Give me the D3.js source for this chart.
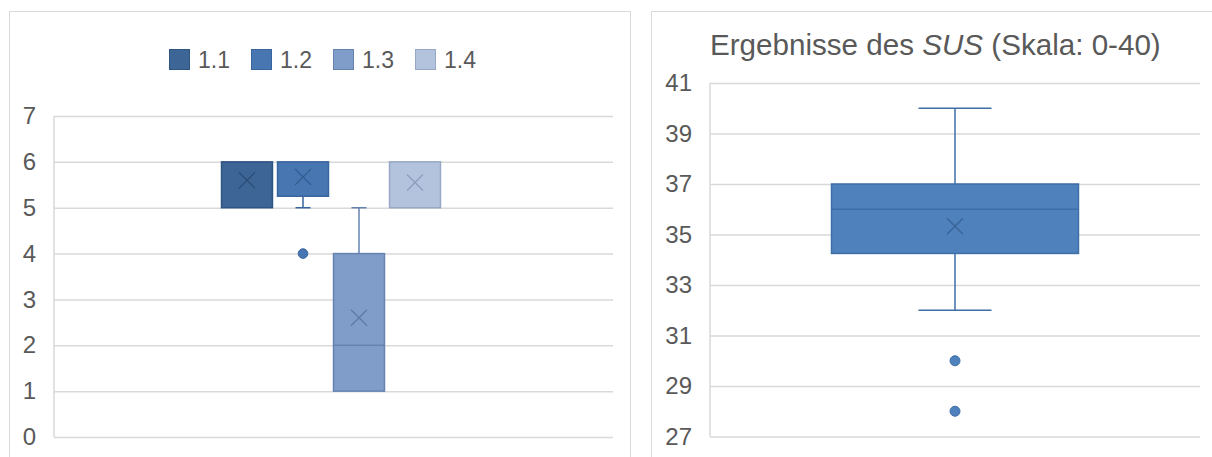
<!DOCTYPE html>
<html>
<head>
<meta charset="utf-8">
<script src="https://cdn.jsdelivr.net/npm/d3@7"></script>
<style>
  html, body { margin: 0; padding: 0; background: #fff; }
  svg { display: block; font-family: "Liberation Sans", Arial, sans-serif; }
</style>
</head>
<body>
<svg id="chart" width="1212" height="457"></svg>
<script>
// ---------- Data: left chart (questions 1.1 - 1.4) ----------
const seriesNames = ["1.1", "1.2", "1.3", "1.4"];
const leftMin     = [5, 5, 1, 5];
const leftQ1      = [5, 5.25, 1, 5];
const leftMedian  = [6, 6, 2, 6];
const leftQ3      = [6, 6, 4, 6];
const leftMax     = [6, 6, 5, 6];
const leftMean    = [5.6, 5.67, 2.6, 5.55];
const leftOutliers = [[], [4], [], []];
const leftTicks   = [0, 1, 2, 3, 4, 5, 6, 7];

// ---------- Data: right chart (SUS) ----------
const susTitleParts = ["Ergebnisse des ", "SUS", " (Skala: 0-40)"];
const susMin = 32, susQ1 = 34.25, susMedian = 36, susQ3 = 37, susMax = 40, susMean = 35.33;
const susOutliers = [30, 28];
const susTicks = [27, 29, 31, 33, 35, 37, 39, 41];

// ---------- Styles ----------
const fills   = ["#3d6595", "#4876b0", "#7f9dc8", "#b3c3de"];
const strokes = ["#2f5583", "#38659e", "#6683b0", "#97a8c6"];
const meanCol = ["#2c4e78", "#325d92", "#5d7aa6", "#8d9dbb"];
const textCol = "#595959";
const gridCol = "#d9d9d9";

const svg = d3.select("#chart");

// Panel borders
svg.append("rect").attr("x", 9.5).attr("y", 11.5).attr("width", 621).attr("height", 470)
  .attr("fill", "none").attr("stroke", gridCol).attr("stroke-width", 1);
svg.append("rect").attr("x", 651.5).attr("y", 11.5).attr("width", 600).attr("height", 470)
  .attr("fill", "none").attr("stroke", gridCol).attr("stroke-width", 1);

// ================= LEFT CHART =================
const L = { left: 54, right: 613, top: 116, bottom: 437 };
const yL = d3.scaleLinear().domain([0, 7]).range([L.bottom, L.top]);
const xCat = d3.scaleBand().domain(["all"]).range([L.left, L.right]);
const groupCenter = xCat("all") + xCat.bandwidth() / 2 - 2.5;
const xSer = d3.scaleBand().domain(seriesNames)
  .range([groupCenter - 112, groupCenter + 112]).paddingInner(0.09).paddingOuter(0.045);

const gL = svg.append("g");
// gridlines
gL.append("g").attr("transform", `translate(${L.left},0)`)
  .call(d3.axisLeft(yL).tickValues(leftTicks).tickSize(-(L.right - L.left)).tickFormat(""))
  .call(g => g.select(".domain").remove())
  .call(g => g.selectAll("line").attr("stroke", gridCol).attr("stroke-width", 1.5));
// axis line
gL.append("line").attr("x1", L.left).attr("x2", L.left).attr("y1", L.top).attr("y2", L.bottom)
  .attr("stroke", gridCol).attr("stroke-width", 1.5);
// tick labels
gL.append("g").attr("transform", `translate(${L.left},0)`)
  .call(d3.axisLeft(yL).tickValues(leftTicks).tickSize(0).tickPadding(18).tickFormat(d3.format("d")))
  .call(g => g.select(".domain").remove())
  .call(g => g.selectAll("text").attr("fill", textCol).style("font-size", "24px")
    .style("font-family", "'Liberation Sans', Arial, sans-serif"));

function drawBox(g, cx, w, capW, st, y, fill, stroke, mc, r) {
  // whiskers
  if (st.max > st.q3) {
    g.append("line").attr("x1", cx).attr("x2", cx).attr("y1", y(st.q3)).attr("y2", y(st.max))
      .attr("stroke", stroke).attr("stroke-width", 1.5);
    g.append("line").attr("x1", cx - capW / 2).attr("x2", cx + capW / 2).attr("y1", y(st.max)).attr("y2", y(st.max))
      .attr("stroke", stroke).attr("stroke-width", 1.5);
  }
  if (st.min < st.q1) {
    g.append("line").attr("x1", cx).attr("x2", cx).attr("y1", y(st.q1)).attr("y2", y(st.min))
      .attr("stroke", stroke).attr("stroke-width", 1.5);
    g.append("line").attr("x1", cx - capW / 2).attr("x2", cx + capW / 2).attr("y1", y(st.min)).attr("y2", y(st.min))
      .attr("stroke", stroke).attr("stroke-width", 1.5);
  }
  // box
  g.append("rect").attr("x", cx - w / 2).attr("width", w)
    .attr("y", y(st.q3)).attr("height", y(st.q1) - y(st.q3))
    .attr("fill", fill).attr("stroke", stroke).attr("stroke-width", 1.5);
  // median
  if (st.median > st.q1 && st.median < st.q3) {
    g.append("line").attr("x1", cx - w / 2).attr("x2", cx + w / 2)
      .attr("y1", y(st.median)).attr("y2", y(st.median))
      .attr("stroke", stroke).attr("stroke-width", 1.5);
  }
  // mean X
  const m = y(st.mean), s = 8;
  g.append("path").attr("d", `M${cx - s},${m - s}L${cx + s},${m + s}M${cx - s},${m + s}L${cx + s},${m - s}`)
    .attr("stroke", mc).attr("stroke-width", 1.3).attr("fill", "none");
  // outliers
  st.outliers.forEach(o => {
    g.append("circle").attr("cx", cx).attr("cy", y(o)).attr("r", r)
      .attr("fill", fill).attr("stroke", stroke).attr("stroke-width", 1);
  });
}

seriesNames.forEach((name, i) => {
  const cx = xSer(name) + xSer.bandwidth() / 2;
  drawBox(gL, cx, xSer.bandwidth(), 15, {
    min: leftMin[i], q1: leftQ1[i], median: leftMedian[i], q3: leftQ3[i], max: leftMax[i],
    mean: leftMean[i], outliers: leftOutliers[i]
  }, yL, fills[i], strokes[i], meanCol[i], 4.8);
});

// legend
const legend = svg.append("g");
const legX = d3.scaleBand().domain(seriesNames).range([169, 497]);
seriesNames.forEach((name, i) => {
  const x0 = legX(name);
  legend.append("rect").attr("x", x0 + 0.5).attr("y", 49.5).attr("width", 20).attr("height", 20)
    .attr("fill", fills[i]).attr("stroke", strokes[i]).attr("stroke-width", 1);
  legend.append("text").attr("x", x0 + 29).attr("y", 68).text(name)
    .attr("fill", textCol).style("font-size", "23px");
});

// ================= RIGHT CHART =================
const R = { left: 710, right: 1200, top: 83, bottom: 436.5 };
const yR = d3.scaleLinear().domain([27, 41]).range([R.bottom, R.top]);
const xR = d3.scaleBand().domain(["SUS"]).range([R.left, R.right]).paddingInner(0).paddingOuter(0.492);
const gR = svg.append("g");
gR.append("g").attr("transform", `translate(${R.left},0)`)
  .call(d3.axisLeft(yR).tickValues(susTicks).tickSize(-(R.right - R.left)).tickFormat(""))
  .call(g => g.select(".domain").remove())
  .call(g => g.selectAll("line").attr("stroke", gridCol).attr("stroke-width", 1.5));
gR.append("line").attr("x1", R.left).attr("x2", R.left).attr("y1", R.top).attr("y2", R.bottom)
  .attr("stroke", gridCol).attr("stroke-width", 1.5);
gR.append("g").attr("transform", `translate(${R.left},0)`)
  .call(d3.axisLeft(yR).tickValues(susTicks).tickSize(0).tickPadding(18).tickFormat(d3.format("d")))
  .call(g => g.select(".domain").remove())
  .call(g => g.selectAll("text").attr("fill", textCol).style("font-size", "24px")
    .style("font-family", "'Liberation Sans', Arial, sans-serif"));

const cxR = xR("SUS") + xR.bandwidth() / 2;
drawBox(gR, cxR, xR.bandwidth(), 73, {
  min: susMin, q1: susQ1, median: susMedian, q3: susQ3, max: susMax, mean: susMean, outliers: susOutliers
}, yR, "#4f81bd", "#3e6ea6", "#3a6496", 5);

// title
const title = svg.append("text").attr("x", 710).attr("y", 55)
  .attr("fill", textCol).style("font-size", "29.6px");
title.append("tspan").text(susTitleParts[0]);
title.append("tspan").style("font-style", "italic").text(susTitleParts[1]);
title.append("tspan").text(susTitleParts[2]);
</script>
</body>
</html>
